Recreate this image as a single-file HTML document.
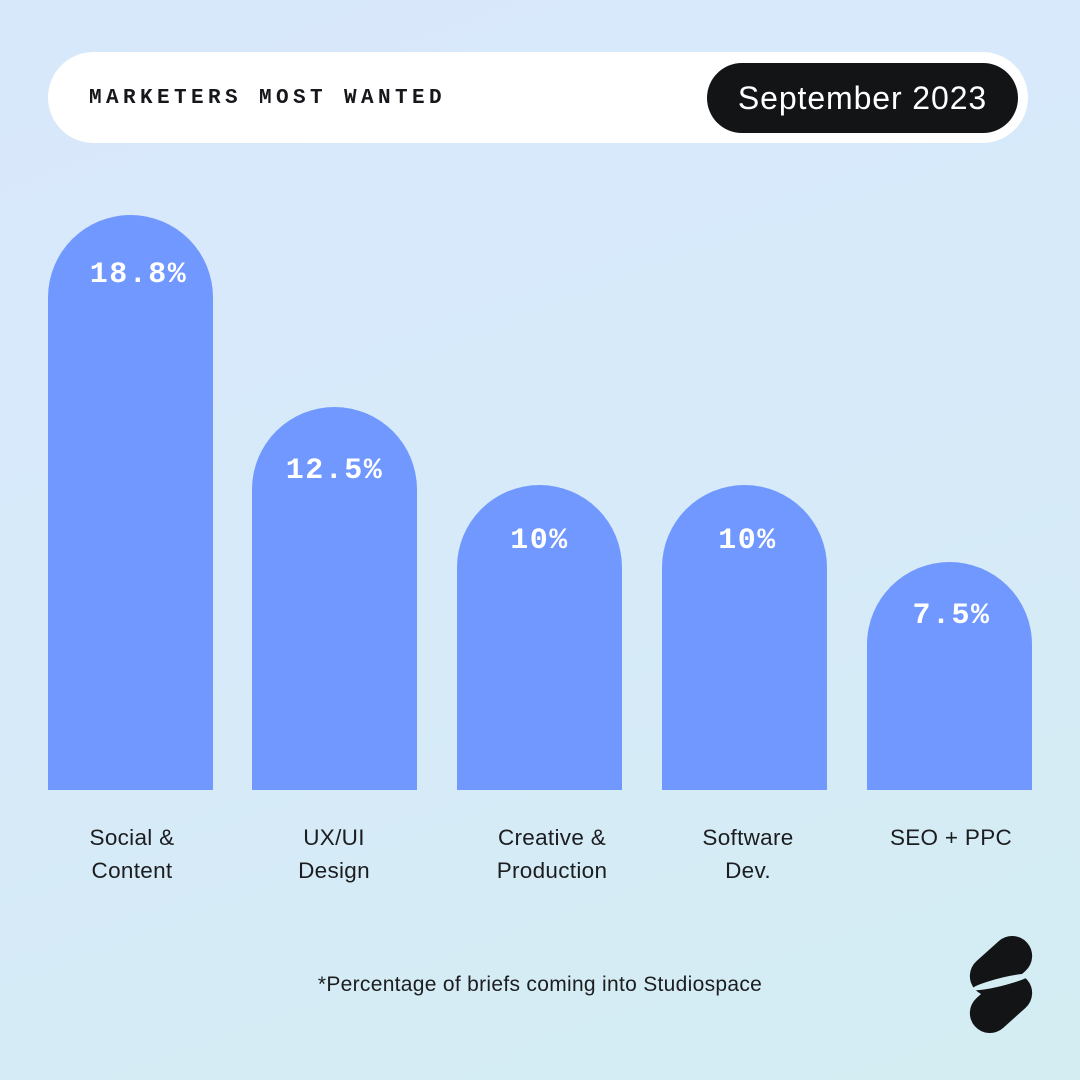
<!DOCTYPE html>
<html><head><meta charset="utf-8"><style>
body{margin:0}
#c{position:relative;width:1080px;height:1080px;overflow:hidden;background:linear-gradient(160deg,#d8e8fb 0%,#d6eaf9 50%,#d4edf2 100%);font-family:"Liberation Sans",sans-serif}
.hdr{position:absolute;left:48px;top:52px;width:980px;height:91px;border-radius:46px;background:#fff}
.ttl{position:absolute;left:89px;top:87px;font:bold 21px "Liberation Mono",monospace;letter-spacing:4.4px;color:#15171a}
.dp{position:absolute;left:707px;top:63px;width:311px;height:70px;border-radius:35px;background:#131416;color:#fff;font-size:32px;line-height:70px;text-align:center;letter-spacing:0.9px}
.bar{position:absolute;width:165px;background:#7198ff;border-radius:82.5px 82.5px 0 0;bottom:290px}
.pct{position:absolute;width:165px;text-align:center;color:#fff;font:bold 30px "Liberation Mono",monospace;letter-spacing:1.5px}
.lab{position:absolute;width:200px;text-align:center;font-size:22.5px;line-height:33px;color:#1c1d20;top:821px;letter-spacing:0.3px}
.fn{position:absolute;left:0;width:1080px;text-align:center;top:973px;font-size:21px;color:#1c1d20;letter-spacing:0.3px}
</style></head><body><div id="c">
<div class="hdr"></div>
<div class="ttl">MARKETERS MOST WANTED</div>
<div class="dp">September 2023</div>

<div class="bar" style="left:48px;height:575px"></div>
<div class="bar" style="left:252px;height:383px"></div>
<div class="bar" style="left:457px;height:305px"></div>
<div class="bar" style="left:662px;height:305px"></div>
<div class="bar" style="left:867px;height:228px"></div>

<div class="pct" style="left:56px;top:258px">18.8%</div>
<div class="pct" style="left:252px;top:454px">12.5%</div>
<div class="pct" style="left:457px;top:524px">10%</div>
<div class="pct" style="left:665px;top:524px">10%</div>
<div class="pct" style="left:869px;top:599px">7.5%</div>

<div class="lab" style="left:32px">Social &amp;<br>Content</div>
<div class="lab" style="left:234px">UX/UI<br>Design</div>
<div class="lab" style="left:452px">Creative &amp;<br>Production</div>
<div class="lab" style="left:648px">Software<br>Dev.</div>
<div class="lab" style="left:851px">SEO + PPC</div>

<div class="fn">*Percentage of briefs coming into Studiospace</div>

<svg style="position:absolute;left:0;top:0" width="1080" height="1080">
<g fill="#131416">
<rect x="966" y="946" width="70" height="40" rx="20" transform="rotate(-42 1001 966)"/>
<rect x="966" y="983" width="70" height="40" rx="20" transform="rotate(-42 1001 1003)"/>
</g>
<ellipse cx="1001" cy="982" rx="30" ry="4" transform="rotate(-14 1001 982)" fill="#d4edf2"/>
</svg>
</div></body></html>
